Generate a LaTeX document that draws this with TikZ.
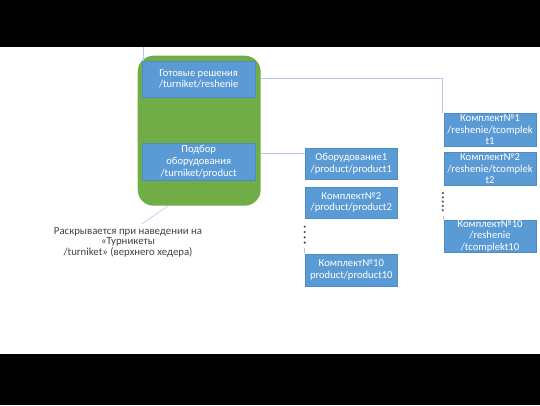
\documentclass[tikz,border=0pt]{standalone}
\usepackage{fontspec}
\setmainfont{Carlito}
\usetikzlibrary{calc}
\definecolor{boxblue}{HTML}{5B9BD5}
\definecolor{boxedge}{HTML}{4F8BC4}
\definecolor{grpgreen}{HTML}{70AD47}
\definecolor{linec}{HTML}{B4C7E7}
\definecolor{dotc}{HTML}{44546A}
\definecolor{notec}{HTML}{404040}
\tikzset{
  bluebox/.style={rectangle, fill=boxblue, draw=boxedge, line width=0.4pt, text=white,
    font=\fontsize{10.6}{11.7}\selectfont, align=center, inner sep=0pt},
  grpbox/.style={rectangle, rounded corners=16pt, fill=grpgreen, draw=none, inner sep=0pt},
  conn/.style={draw=linec, line width=0.8pt},
  dotmark/.style={circle, fill=dotc, inner sep=0pt, minimum size=2.4pt},
  notetext/.style={text=notec, font=\fontsize{10.8}{9.6}\selectfont, align=center, inner sep=0pt}
}
\begin{document}
\begin{tikzpicture}[x=1pt,y=-1pt]
\useasboundingbox (0,0) rectangle (540,405);
\fill[black] (0,0) rectangle (540,47);
\fill[black] (0,354) rectangle (540,405);

% group
\node[grpbox, minimum width=123pt, minimum height=150pt] (grp) at (199.2,130.7) {};
\node[bluebox, minimum width=112.7pt, minimum height=36pt] (r) at (198.7,78.7)
  {Готовые решения\\/turniket/reshenie};
\node[bluebox, minimum width=112.7pt, minimum height=36.7pt] (p) at (198.7,161.7)
  {Подбор\\оборудования\\/turniket/product};

% middle column
\node[bluebox, minimum width=92.7pt, minimum height=31.6pt] (o1) at (351.3,163.5)
  {Оборудование1\\/product/product1};
\node[bluebox, minimum width=92.7pt, minimum height=31.6pt] (o2) at (351.3,202.5)
  {Комплект№2\\/product/product2};
\node[bluebox, minimum width=92.7pt, minimum height=31.6pt] (o10) at (351.3,270.2)
  {Комплект№10\\product/product10};

% right column
\node[bluebox, minimum width=92pt, minimum height=32.7pt] (k1) at (490,129.7)
  {Комплект№1\\/reshenie/tcomplek\\t1};
\node[bluebox, minimum width=92pt, minimum height=32.3pt] (k2) at (490,168.8)
  {Комплект№2\\/reshenie/tcomplek\\t2};
\node[bluebox, minimum width=92pt, minimum height=32.7pt] (k10) at (490,236.3)
  {Комплект№10\\/reshenie\\/tcomplekt10};

% note
\node[notetext] (note) at (128,242.5)
  {Раскрывается при наведении на\\«Турникеты\\/turniket» (верхнего хедера)};

% connectors
\coordinate (topin) at (143,47);
\coordinate (pj) at (261,153.3);
\draw[conn] (topin) -- (topin |- r.north);
\draw[conn] (r.east -| grp.east) -| ([xshift=-1pt]k1.north west);
\draw[conn] (pj) -- (o1.west |- pj);
\draw[draw=linec, line width=0.6pt] ($(grp.south west)+(30.5,0)$) -- ($(note.north)+(14,-4)$);

% continuation dots, middle
\foreach \yy in {226.7,232,237.3,242.6}
  \node[dotmark] at (304.7,\yy) {};
\draw[conn, line width=0.5pt] (304.7,248) -- (o10.north west -| 304.7,0);
% continuation dots, right
\foreach \yy in {193,197.3,201.6,205.9,210.2}
  \node[dotmark] at (442.8,\yy) {};
\draw[conn, line width=0.5pt] (442.8,215.5) -- (k10.north west -| 442.8,0);
\end{tikzpicture}
\end{document}
